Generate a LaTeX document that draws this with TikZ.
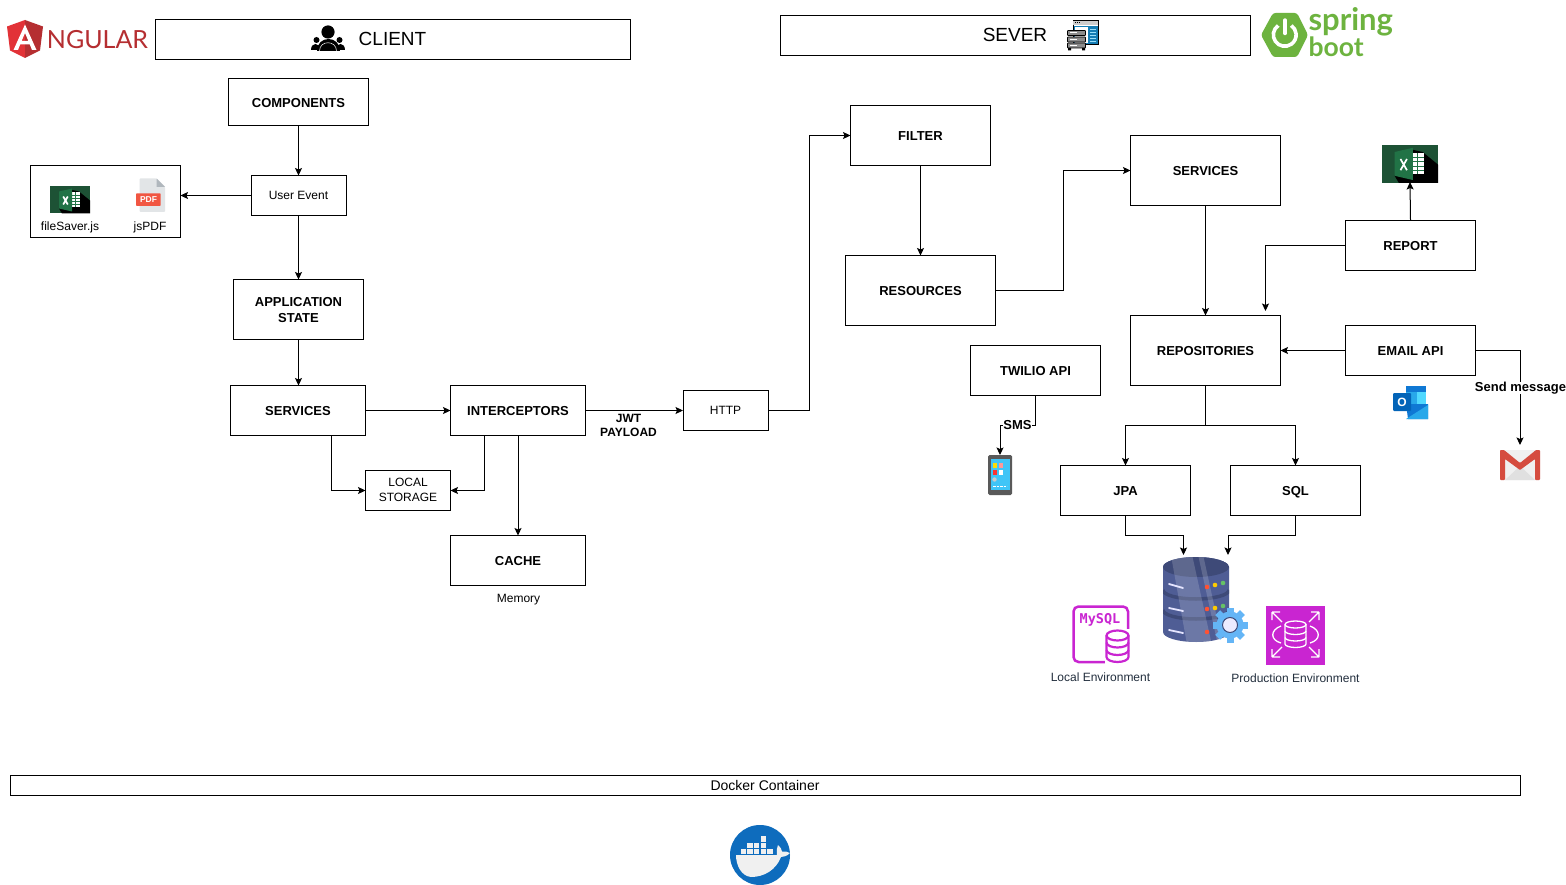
\documentclass[tikz,border=0pt]{standalone}
\usepackage{fontspec}
\setmainfont{Liberation Sans}
\newfontfamily\logofont{Lato}
\newfontfamily\springfont{Lato}
\newfontfamily\mysqlfont{DejaVu Sans Mono}
\usetikzlibrary{arrows.meta}
\definecolor{magenta}{HTML}{C925D1}
\definecolor{springg}{HTML}{6DB33F}
\definecolor{awsink}{HTML}{232F3E}
\definecolor{angred}{HTML}{E23237}
\definecolor{angdark}{HTML}{B52E31}
\definecolor{xlbg}{HTML}{1D5235}
\definecolor{xlgreen}{HTML}{217346}
\definecolor{dbblue}{HTML}{4F5D95}
\definecolor{dbdark}{HTML}{3E4A78}
\definecolor{dockblue}{HTML}{0E6CBD}
\definecolor{pdfpage}{HTML}{E2E5E7}
\definecolor{pdffold}{HTML}{B0B7BD}
\definecolor{pdfred}{HTML}{F15642}
\definecolor{gmred}{HTML}{D54C3F}
\definecolor{olA}{HTML}{0F78D4}
\definecolor{olB}{HTML}{28A8EA}
\definecolor{olC}{HTML}{50D9FF}
\definecolor{olD}{HTML}{0364B8}
\definecolor{srvblue}{HTML}{157DB5}
\definecolor{gearblue}{HTML}{64B5F6}
\tikzset{
  x=1pt,y=-1pt,
  >={Stealth[length=7.5pt,width=7pt,inset=1.5pt]},
  boxbase/.style={draw=black,line width=1pt,fill=white,inner sep=0pt,outer sep=0pt,align=center},
  box/.style={boxbase,font=\fontsize{13}{16}\selectfont\bfseries},
  onebox/.style={box,text height=10.4pt,text depth=0pt},
  smallbox/.style={boxbase,font=\fontsize{12}{15}\selectfont},
  link/.style={draw=black,line width=1pt,->},
  lbl/.style={inner sep=0pt,outer sep=0pt,align=center,font=\fontsize{12}{14}\selectfont},
  lblb/.style={lbl,font=\fontsize{12}{14}\selectfont\bfseries},
  icon/.style={inner sep=0pt,outer sep=0pt,draw=none},
}
\newcommand{\excelicon}[3]{%
\begin{scope}[shift={(#1,#2)},scale=#3]
  \fill[xlbg] (0,0) rectangle (40,27);
  \fill[black] (20,3) -- (29,5) -- (40,14) -- (40,27) -- (12,27) -- (9,22) -- cycle;
  \fill[white] (22,6) rectangle (30,21);
  \foreach \gy in {9,12,15,18} \draw[xlgreen,line width=.6pt] (22,\gy) -- (30,\gy);
  \draw[xlgreen,line width=.6pt] (25.5,6) -- (25.5,21);
  \fill[xlgreen] (9,5) -- (22,2) -- (22,25) -- (9,22) -- cycle;
  \draw[white,line width=1.7pt] (13.2,10) -- (17.8,18) (17.8,10) -- (13.2,18);
\end{scope}}
\begin{document}
\begin{tikzpicture}
\useasboundingbox (0,0) rectangle (1566,885);
\fill[white] (0,0) rectangle (1566,885);

% header bars
\node[boxbase,minimum width=475pt,minimum height=40pt] (client) at (393,39.5) {};
\node[boxbase,minimum width=470pt,minimum height=40pt] (server) at (1015.5,35.5) {};
\node[lbl,font=\fontsize{19}{24}\selectfont] (clienttxt) at (392.5,39) {CLIENT};
\node[lbl,font=\fontsize{19}{24}\selectfont] (servertxt) at (1015,35) {SEVER};

% Angular logo
\fill[angred] (25,20) -- (7,26.5) -- (10,50.5) -- (25,58) -- cycle;
\fill[angdark] (25,20) -- (43,26.5) -- (40,50.5) -- (25,58) -- cycle;
\fill[white,even odd rule] (25,24.5) -- (13.5,50) -- (18,50) -- (20.2,44.5) -- (29.8,44.5) -- (32,50) -- (36.5,50) -- cycle
  (25,33) -- (28.4,41) -- (21.6,41) -- cycle;
\node[lbl,text=angdark,font=\logofont\fontsize{25}{28}\selectfont] (angtxt) at (97.5,39.8) {NGULAR};

% people icon
\fill[black] (328,32) circle (6.6);
\fill[black] (316.5,51) .. controls (316.5,35) and (339.5,35) .. (339.5,51) -- cycle;
\fill[black] (316.5,40) circle (3);
\fill[black] (339.5,40) circle (3);
\fill[black] (311,50.5) .. controls (311,42) and (320,42) .. (320,50.5) -- cycle;
\fill[black] (336,50.5) .. controls (336,42) and (345,42) .. (345,50.5) -- cycle;
\draw[white,line width=.5pt] (319.5,51) .. controls (319.5,40) and (336.5,40) .. (336.5,51);

% server icon
\draw[black,fill=white,line width=.7pt] (1073,20.5) rectangle (1098.5,44.5);
\fill[black!20] (1073.4,21) rectangle (1098.1,25);
\foreach \dx in {1075,1077,1079} \fill[black] (\dx,22.3) rectangle +(1,1);
\draw[srvblue,line width=1.4pt] (1074.5,26.5) rectangle (1097,43.5);
\fill[srvblue] (1088,27) rectangle (1097,44);
\foreach \gy in {29,32,35,38,41} \draw[white!60!cyan,line width=.5pt] (1090,\gy) -- (1095.5,\gy);
\foreach \gy in {30.5,37,43} {
  \draw[black,fill=black!45,line width=.8pt,rounded corners=.6pt] (1067.5,\gy) rectangle (1085.5,\gy+5);
  \fill[white] (1069.5,\gy+2) rectangle (1077,\gy+3);
}
\fill[black] (1068,48) rectangle (1071,50.5) (1082,48) rectangle (1085,50.5);

% Spring Boot logo
\fill[springg,rounded corners=2.5pt] (1273,13) -- (1297,13) -- (1308,35) -- (1297,57) -- (1273,57) -- (1261,35) -- cycle;
\draw[white,line width=3.6pt] (1278.2,25.5) arc[start angle=235,end angle=-55,radius=11.4];
\draw[white,line width=3.4pt,line cap=round] (1285,20) -- (1285,33.5);
\node[lbl,anchor=base west,text=springg,font=\springfont\fontsize{31}{34}\selectfont\bfseries] (springtxt) at (1308.5,30.5) {spring};
\node[lbl,anchor=base west,text=springg,font=\springfont\fontsize{26.5}{30}\selectfont\bfseries] (boottxt) at (1308.5,57) {boot};

% client nodes
\node[onebox,minimum width=140pt,minimum height=47pt] (components) at (298.5,102) {COMPONENTS};
\node[smallbox,minimum width=95pt,minimum height=40pt] (userevent) at (298.5,195.5) {User Event};
\node[smallbox,minimum width=150pt,minimum height=72pt] (export) at (105.5,201.5) {};
\node[box,minimum width=130pt,minimum height=60pt] (appstate) at (298.5,309.5) {\rule{0pt}{10.5pt}APPLICATION\\STATE};
\node[onebox,minimum width=135pt,minimum height=50pt] (services) at (298,410.5) {SERVICES};
\node[onebox,minimum width=135pt,minimum height=50pt] (interceptors) at (518,410.5) {INTERCEPTORS};
\node[smallbox,minimum width=85pt,minimum height=40pt] (storage) at (408,490.5) {LOCAL\\STORAGE\rule[-1pt]{0pt}{0pt}};
\node[onebox,minimum width=135pt,minimum height=50pt] (cache) at (518,560.5) {CACHE};
\node[lbl] (memory) at (518.5,600) {Memory};
\node[smallbox,text depth=1pt,minimum width=85pt,minimum height=40pt] (http) at (725.5,410.5) {HTTP};

\excelicon{50}{186.5}{1}
\node[lbl] (filesaver) at (70,227) {fileSaver.js};
\node[lbl] (jspdf) at (150,227) {jsPDF};
% pdf icon
\fill[pdfpage,rounded corners=1pt] (139.5,178.5) -- (156.5,178.5) -- (165,187) -- (165,212) -- (139.5,212) -- cycle;
\fill[pdffold] (156.5,178.5) -- (165,187) -- (156.5,187) -- cycle;
\fill[pdfred,rounded corners=.8pt] (136,193.3) rectangle (160.7,206);
\node[lbl,text=white,font=\fontsize{8.5}{9}\selectfont\bfseries] (pdftxt) at (148.5,199.8) {PDF};

% server nodes
\node[onebox,minimum width=140pt,minimum height=60pt] (filter) at (920.5,135.5) {FILTER};
\node[onebox,minimum width=150pt,minimum height=70pt] (resources) at (920.5,290.5) {RESOURCES};
\node[onebox,minimum width=150pt,minimum height=70pt] (services2) at (1205.5,170.5) {SERVICES};
\node[onebox,minimum width=130pt,minimum height=50pt] (report) at (1410.5,245.5) {REPORT};
\node[onebox,minimum width=150pt,minimum height=70pt] (repos) at (1205.5,350.5) {REPOSITORIES};
\node[onebox,minimum width=130pt,minimum height=50pt] (email) at (1410.5,350.5) {EMAIL API};
\node[onebox,minimum width=130pt,minimum height=50pt] (twilio) at (1035.5,370.5) {TWILIO API};
\node[onebox,minimum width=130pt,minimum height=50pt] (jpa) at (1125.5,490.5) {JPA};
\node[onebox,minimum width=130pt,minimum height=50pt] (sql) at (1295.5,490.5) {SQL};
\node[boxbase,minimum width=1510pt,minimum height=20pt] (docker) at (765.5,785.5) {};
\node[lbl,font=\fontsize{14}{16}\selectfont] (dockertxt) at (765,785) {Docker Container};

% excel 2
\node[icon,minimum width=56pt,minimum height=37pt] (excel2) at (1410,163.5) {};
\excelicon{1382}{145}{1.4}

% phone
\node[icon,minimum width=24pt,minimum height=40pt] (phone) at (1000,475) {};
\fill[black!65,rounded corners=1.5pt] (988,455) rectangle (1012,495);
\fill[olC!60!olB] (990.5,459) rectangle (1009.5,489.5);
\fill[yellow!80!orange] (992.5,463) rectangle (996.5,467.5);
\fill[red!40!white] (999,463) rectangle (1003,467.5);
\fill[red!80!white] (992.5,470) rectangle (996.5,474.5);
\fill[white] (999,470) rectangle (1003,474.5);
\fill[black!20] (994.5,479.5) circle (2.2);
\draw[white,line width=.7pt,dash pattern=on 2.5pt off 1pt] (993,486) -- (1007,486);

% outlook
\fill[olA] (1406,386) rectangle (1426,392);
\fill[olC] (1417,392) rectangle (1426,404);
\fill[olB] (1406,392) rectangle (1417,404);
\fill[olA] (1406,404) -- (1428,404) -- (1428,419) -- (1408,419) -- cycle;
\fill[olB] (1428,405) -- (1428,419) -- (1406,419) -- cycle;
\fill[olD,rounded corners=1pt] (1393,393) rectangle (1411,411);
\node[lbl,text=white,font=\fontsize{12}{14}\selectfont\bfseries] (outlooktxt) at (1402,402.5) {O};

% gmail
\node[icon,minimum width=40pt,minimum height=30pt] (gmail) at (1520,465) {};
\fill[black!6,rounded corners=1pt] (1500,450) rectangle (1540,480);
\fill[black!12] (1505,480) -- (1520,466) -- (1535,480) -- cycle;
\fill[gmred,rounded corners=.8pt] (1500,450) -- (1504,450) -- (1520,463) -- (1536,450) -- (1540,450) -- (1540,480) -- (1535,480) -- (1535,459) -- (1520,470) -- (1505,459) -- (1505,480) -- (1500,480) -- cycle;

% database
\begin{scope}
  \clip (1163,567) arc[start angle=180,end angle=360,x radius=33,y radius=10] -- (1229,632) arc[start angle=0,end angle=180,x radius=33,y radius=10] -- cycle;
  \fill[dbblue] (1160,550) rectangle (1232,650);
  \fill[dbdark] (1196,567) ellipse[x radius=33,y radius=10];
  \draw[dbdark,line width=3.5pt] (1163,590) arc[start angle=180,end angle=0,x radius=33,y radius=9];
  \draw[dbdark,line width=3.5pt] (1163,610) arc[start angle=180,end angle=0,x radius=33,y radius=9];
  \fill[white,opacity=.17] (1170,550) -- (1191,550) -- (1213,650) -- (1188,650) -- cycle;
  \fill[white,opacity=.17] (1197,550) -- (1202,550) -- (1224,650) -- (1219,650) -- cycle;
\end{scope}
\draw[white!90!blue,line width=1.8pt,line cap=round] (1169,584) -- (1183,588) (1169,608) -- (1183,611) (1169,630) -- (1183,633);
\fill[red!70!orange!80!white] (1207,587) circle (2.3) (1207,609) circle (2.3) (1207,632) circle (2.3);
\fill[orange!40!yellow] (1215,585) circle (2.3) (1215,608) circle (2.3);
\fill[green!60!black!60!white] (1223,583) circle (2.3) (1223,606) circle (2.3);
\fill[gearblue] (1230,625) circle (13.5);
\foreach \a in {0,45,...,315} \fill[gearblue,rotate around={\a:(1230,625)}] (1226.5,607.5) rectangle (1233.5,614);
\draw[dbdark,fill=blue!8!white,line width=1pt] (1230,625) circle (7.5);

% MySQL
\draw[magenta,line width=2.5pt,rounded corners=5pt] (1073.5,606.5) rectangle (1128,662);
\node[lbl,text=magenta,font=\mysqlfont\fontsize{13.5}{16}\selectfont\bfseries] (mysqltxt) at (1100,619.5) {MySQL};
\fill[white] (1105,629) rectangle (1130,664);
\draw[magenta,fill=white,line width=2.2pt] (1106.5,635.5) -- (1106.5,657) arc[start angle=180,end angle=0,x radius=11,y radius=5] -- (1128.5,635.5);
\draw[magenta,fill=white,line width=2.2pt] (1117.5,635.5) ellipse[x radius=11,y radius=5];
\draw[magenta,line width=2.2pt] (1106.5,642.5) arc[start angle=180,end angle=0,x radius=11,y radius=5];
\draw[magenta,line width=2.2pt] (1106.5,650) arc[start angle=180,end angle=0,x radius=11,y radius=5];
\node[lbl,text=awsink] (localenv) at (1100.5,677) {Local Environment};

% RDS
\fill[magenta] (1266,605.5) rectangle (1325,664.5);
\begin{scope}[white,line width=1.3pt]
  \draw (1295.5,624.5) ellipse[x radius=10.5,y radius=3.5];
  \draw (1285,624.5) -- (1285,644) arc[start angle=180,end angle=0,x radius=10.5,y radius=3.5] -- (1306,624.5);
  \draw (1285,631) arc[start angle=180,end angle=0,x radius=10.5,y radius=3.5];
  \draw (1285,637.5) arc[start angle=180,end angle=0,x radius=10.5,y radius=3.5];
  \draw (1281,626) .. controls (1270,630) and (1270,640) .. (1281,643);
  \draw (1310,626) .. controls (1321,630) and (1321,640) .. (1310,643);
  \draw (1272,612) -- (1282,622) (1272,612) -- (1272,620) (1272,612) -- (1280,612);
  \draw (1319,612) -- (1309,622) (1319,612) -- (1319,620) (1319,612) -- (1311,612);
  \draw (1272,657) -- (1282,647) (1272,657) -- (1272,649) (1272,657) -- (1280,657);
  \draw (1319,657) -- (1309,647) (1319,657) -- (1319,649) (1319,657) -- (1311,657);
\end{scope}
\node[lbl,text=awsink] (prodenv) at (1295.5,678) {Production Environment};

% docker logo
\fill[dockblue] (760,855) circle (30);
\fill[black!6] (736,855) -- (777,855) .. controls (777,851) and (776,848) .. (778,845) .. controls (780,847) and (782,849) .. (782,851.5) .. controls (785,851) and (787,851.5) .. (790,853) .. controls (787,856) and (784,857) .. (781,857) .. controls (776,870) and (764,877) .. (751,877) .. controls (741,876) and (736,865) .. (736,855) -- cycle;
\foreach \bx/\by in {740.5/849,747.2/849,753.9/849,760.6/849,767.3/849,747.2/842.7,753.9/842.7,760.6/842.7,760.6/836.4}
  \fill[black!6] (\bx,\by) rectangle +(5.4,5.1);

% connectors
\draw[link] (components.south) -- (userevent.north);
\draw[link] (userevent.west) -- (userevent.west -| export.east);
\draw[link] (userevent.south) -- (appstate.north);
\draw[link] (appstate.south) -- (appstate.south |- services.north);
\draw[link] (services.east) -- (interceptors.west);
\draw[link] ([xshift=33.5pt]services.south) |- (storage.west);
\draw[link] ([xshift=-33.5pt]interceptors.south) |- (storage.east);
\draw[link] (interceptors.south) -- (cache.north);
\draw[link] (interceptors.east) -- (http.west);
\node[lblb,font=\fontsize{12}{13.5}\selectfont\bfseries] (jwt) at (628.5,425.5) {JWT\\PAYLOAD};
\draw[link] (http.east) -- ++(41,0) |- (filter.west);
\draw[link] (filter.south) -- (resources.north);
\draw[link] (resources.east) -- ++(67.5,0) |- (services2.west);
\draw[link] (services2.south) -- (repos.north);
\draw[link] (report.north) -- (excel2.south);
\draw[link] (report.west) -- ++(-80,0) -- ++(0,65.5);
\draw[link] (email.west) -- (repos.east);
\draw[link] (email.east) -- ++(44.5,0) -- ([yshift=5pt]gmail.north);
\node[lblb,fill=white,font=\fontsize{13}{15}\selectfont\bfseries] (sendmsg) at (1520.5,388) {Send message};
\draw[link] (twilio.south) -- ++(0,29.5) -| (phone.north);
\node[lblb,fill=white,font=\fontsize{13}{15}\selectfont\bfseries] (sms) at (1017.5,425.5) {SMS};
\draw[link] (repos.south) -- ++(0,40) -| (jpa.north);
\draw[link] (repos.south) -- ++(0,40) -| (sql.north);
\draw[link] (jpa.south) -- ++(0,20) -- ++(58,0) -- ++(0,19.5);
\draw[link] (sql.south) -- ++(0,20) -- ++(-67.5,0) -- ++(0,19.5);
\end{tikzpicture}
\end{document}
